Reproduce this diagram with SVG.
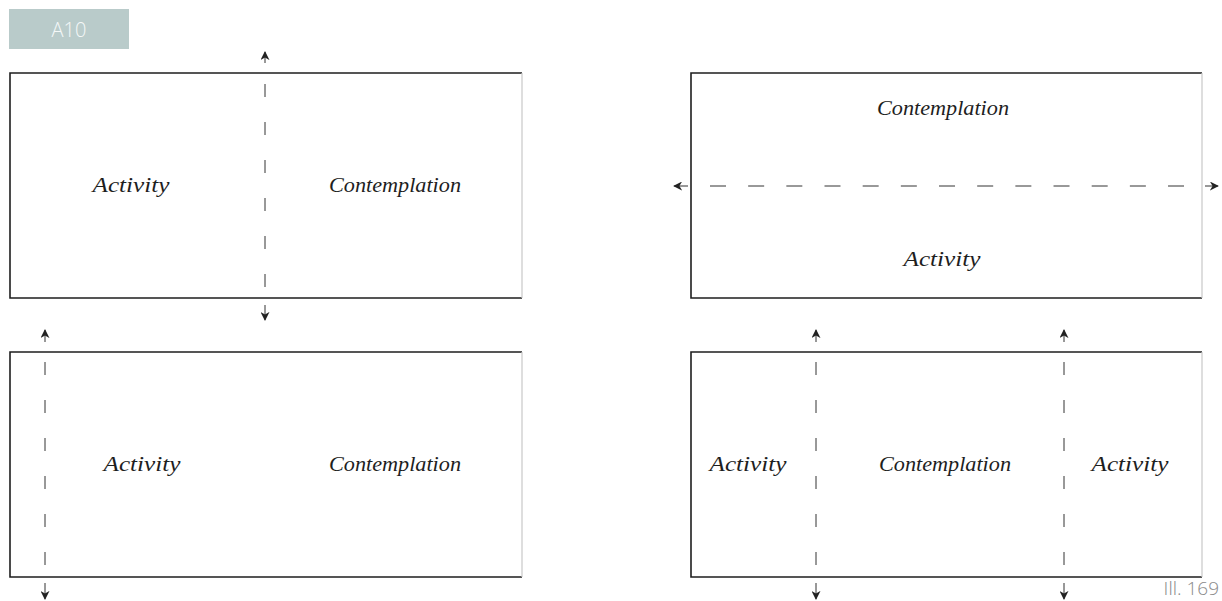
<svg xmlns="http://www.w3.org/2000/svg" width="1222" height="601" viewBox="0 0 1222 601">
<defs>
<style>
.frame{fill:none;stroke:#1e1e1e;stroke-width:1.6}
.edge{fill:none;stroke:#c8c8c8;stroke-width:1.2}
.dash{fill:none;stroke:#333;stroke-width:1}
.arr{fill:none;stroke:#333;stroke-width:1;marker-end:url(#ah)}
.lbl{font-family:"Liberation Serif",serif;font-style:italic;font-size:20px;fill:#1e1e1e;text-anchor:middle}
</style>
<marker id="ah" viewBox="0 0 10 10" refX="9" refY="5" markerWidth="9" markerHeight="9" markerUnits="userSpaceOnUse" orient="auto">
<path d="M0,0 L10,5 L0,10 L3,5 Z" fill="#222"/>
</marker>
</defs>
<rect width="1222" height="601" fill="#fff"/>
<g id="tag">
<rect x="9" y="9" width="120" height="40" fill="#b9cbca"/>
<text x="69" y="37" font-family="'Open Sans',sans-serif" font-weight="300" font-size="20" fill="#f4f8f8" text-anchor="middle">A10</text>
</g>
<g id="box1">
<path class="frame" d="M522,73 H10 V298 H522"/>
<line class="edge" x1="522" y1="73" x2="522" y2="298"/>
<text class="lbl" x="131" y="192" textLength="77" lengthAdjust="spacingAndGlyphs">Activity</text>
<text class="lbl" x="395" y="192" textLength="132" lengthAdjust="spacingAndGlyphs">Contemplation</text>
</g>
<g id="box2">
<path class="frame" d="M1202,73 H691 V298 H1202"/>
<line class="edge" x1="1202" y1="73" x2="1202" y2="298"/>
<text class="lbl" x="943" y="115" textLength="132" lengthAdjust="spacingAndGlyphs">Contemplation</text>
<text class="lbl" x="942" y="266" textLength="77" lengthAdjust="spacingAndGlyphs">Activity</text>
</g>
<g id="box3">
<path class="frame" d="M522,352 H10 V577 H522"/>
<line class="edge" x1="522" y1="352" x2="522" y2="577"/>
<text class="lbl" x="142" y="471" textLength="77" lengthAdjust="spacingAndGlyphs">Activity</text>
<text class="lbl" x="395" y="471" textLength="132" lengthAdjust="spacingAndGlyphs">Contemplation</text>
</g>
<g id="box4">
<path class="frame" d="M1202,352 H691 V577 H1202"/>
<line class="edge" x1="1202" y1="352" x2="1202" y2="577"/>
<text class="lbl" x="748" y="471" textLength="77" lengthAdjust="spacingAndGlyphs">Activity</text>
<text class="lbl" x="945" y="471" textLength="132" lengthAdjust="spacingAndGlyphs">Contemplation</text>
<text class="lbl" x="1130" y="471" textLength="77" lengthAdjust="spacingAndGlyphs">Activity</text>
</g>
<g id="connectors">
<line class="dash" x1="265" y1="84" x2="265" y2="287" stroke-dasharray="13 25"/>
<line class="arr" x1="265" y1="63" x2="265" y2="52"/>
<line class="arr" x1="265" y1="305" x2="265" y2="320"/>
<line class="dash" x1="710" y1="186" x2="1184" y2="186" stroke-dasharray="16 22.17"/>
<line class="arr" x1="688" y1="186" x2="674" y2="186"/>
<line class="arr" x1="1205" y1="186" x2="1218" y2="186"/>
<line class="dash" x1="45" y1="362" x2="45" y2="565" stroke-dasharray="13 25"/>
<line class="arr" x1="45" y1="342" x2="45" y2="330"/>
<line class="arr" x1="45" y1="583" x2="45" y2="599"/>
<line class="dash" x1="816" y1="362" x2="816" y2="565" stroke-dasharray="13 25"/>
<line class="arr" x1="816" y1="342" x2="816" y2="330"/>
<line class="arr" x1="816" y1="583" x2="816" y2="599"/>
<line class="dash" x1="1064" y1="362" x2="1064" y2="565" stroke-dasharray="13 25"/>
<line class="arr" x1="1064" y1="342" x2="1064" y2="330"/>
<line class="arr" x1="1064" y1="583" x2="1064" y2="599"/>
</g>
<g id="caption">
<text x="1219" y="595" font-family="'Open Sans',sans-serif" font-weight="300" font-size="19" fill="#8a8a8a" text-anchor="end">Ill. 169</text>
</g>
</svg>
